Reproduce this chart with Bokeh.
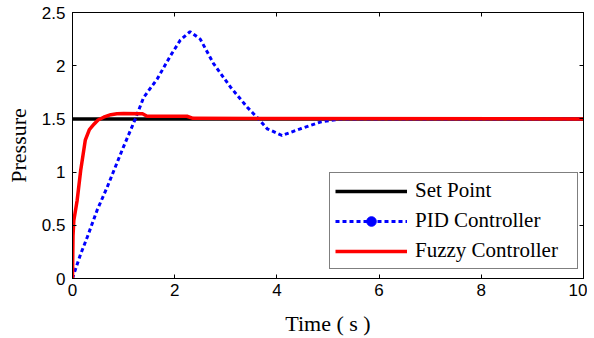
from bokeh.plotting import figure
from bokeh.models import LinearAxis, FixedTicker, Legend, LegendItem, Range1d
from bokeh.embed import file_html
from bokeh.resources import INLINE

# Data
set_t = [0, 10]
set_v = [1.5, 1.5]

pid_t = [0, 0.06, 0.16, 0.29, 0.48, 0.68, 0.81, 1.0, 1.23, 1.39, 1.66, 1.92, 2.11, 2.3,
         2.5, 2.76, 3.09, 3.42, 3.64, 3.81, 4.1, 4.46, 4.85, 5.24, 5.6, 10]
pid_v = [0, 0.09, 0.23, 0.39, 0.64, 0.86, 1.015, 1.24, 1.5, 1.70, 1.877, 2.096, 2.24, 2.32,
         2.25, 2.02, 1.80, 1.61, 1.50, 1.407, 1.344, 1.407, 1.47, 1.50, 1.50, 1.50]

fuzzy_t = [0, 0.01, 0.026, 0.09, 0.16, 0.25, 0.33, 0.42, 0.5, 0.61, 0.75, 0.87, 1.0, 1.37,
           1.46, 2.24, 2.36, 10]
fuzzy_v = [0, 0.4, 0.545, 0.73, 1.015, 1.30, 1.40, 1.45, 1.49, 1.516, 1.54, 1.548, 1.55,
           1.548, 1.525, 1.525, 1.505, 1.5]

x_ticks = [0, 2, 4, 6, 8, 10]
y_ticks = [0, 0.5, 1, 1.5, 2, 2.5]
y_tick_labels = ["0", "0.5", "1", "1.5", "2", "2.5"]

SERIF = "Liberation Serif"
SANS = "Liberation Sans"

p = figure(frame_width=511, frame_height=266, output_backend="svg", toolbar_location=None,
           x_range=Range1d(0, 10), y_range=Range1d(0, 2.5),
           min_border_left=72, min_border_top=12, min_border_right=4, min_border_bottom=55)
p.background_fill_color = "white"
p.border_fill_color = "white"
p.grid.visible = False
p.outline_line_color = "black"
p.outline_line_width = 1

# main axes
for ax in [p.xaxis[0], p.yaxis[0]]:
    ax.major_tick_in = 4
    ax.major_tick_out = 0
    ax.minor_tick_in = 0
    ax.minor_tick_out = 0
    ax.axis_line_color = "black"
    ax.major_label_text_font = SANS
    ax.major_label_text_font_size = "17px"
    ax.major_label_text_color = "black"
    ax.axis_label_text_font = SERIF
    ax.axis_label_text_font_size = "22px"
    ax.axis_label_text_font_style = "normal"
    ax.axis_label_text_color = "black"

p.xaxis[0].ticker = FixedTicker(ticks=x_ticks)
p.yaxis[0].ticker = FixedTicker(ticks=y_ticks)
p.yaxis[0].major_label_overrides = {t: l for t, l in zip(y_ticks, y_tick_labels)}
p.xaxis[0].axis_label = "Time ( s )"
p.yaxis[0].axis_label = "Pressure"
p.xaxis[0].major_label_standoff = 5
p.xaxis[0].axis_label_standoff = 12
p.yaxis[0].major_label_standoff = 7
p.yaxis[0].axis_label_standoff = 8

# top/right axes with ticks only
top = LinearAxis(ticker=FixedTicker(ticks=x_ticks), major_tick_in=4, major_tick_out=0,
                 minor_tick_in=0, minor_tick_out=0,
                 major_label_overrides={t: "" for t in x_ticks},
                 major_label_standoff=0, axis_line_color="black")
right = LinearAxis(ticker=FixedTicker(ticks=y_ticks), major_tick_in=4, major_tick_out=0,
                   minor_tick_in=0, minor_tick_out=0,
                   major_label_overrides={t: "" for t in y_ticks},
                   major_label_standoff=0, axis_line_color="black")
p.add_layout(top, "above")
p.add_layout(right, "right")

r_set = p.line(set_t, set_v, line_color="black", line_width=3.5)
r_pid = p.line(pid_t, pid_v, line_color="blue", line_width=3, line_dash="4 3")
r_pid_m = p.scatter(x=[float("nan")], y=[float("nan")], size=10, color="blue", marker="circle")
r_fuzzy = p.line(fuzzy_t, fuzzy_v, line_color="red", line_width=3.5)

legend = Legend(items=[
    LegendItem(label="Set Point", renderers=[r_set]),
    LegendItem(label="PID Controller", renderers=[r_pid, r_pid_m]),
    LegendItem(label="Fuzzy Controller", renderers=[r_fuzzy]),
], location=(257, 9))
legend.label_text_font = SERIF
legend.label_text_font_size = "21px"
legend.label_text_color = "black"
legend.glyph_width = 72
legend.glyph_height = 24
legend.label_height = 24
legend.label_width = 157
legend.label_standoff = 8
legend.spacing = 5
legend.padding = 5
legend.margin = 0
legend.border_line_color = "black"
legend.border_line_width = 1
legend.background_fill_color = "white"
legend.background_fill_alpha = 1
p.add_layout(legend, "center")

open("out.html", "w").write(file_html(p, INLINE))
